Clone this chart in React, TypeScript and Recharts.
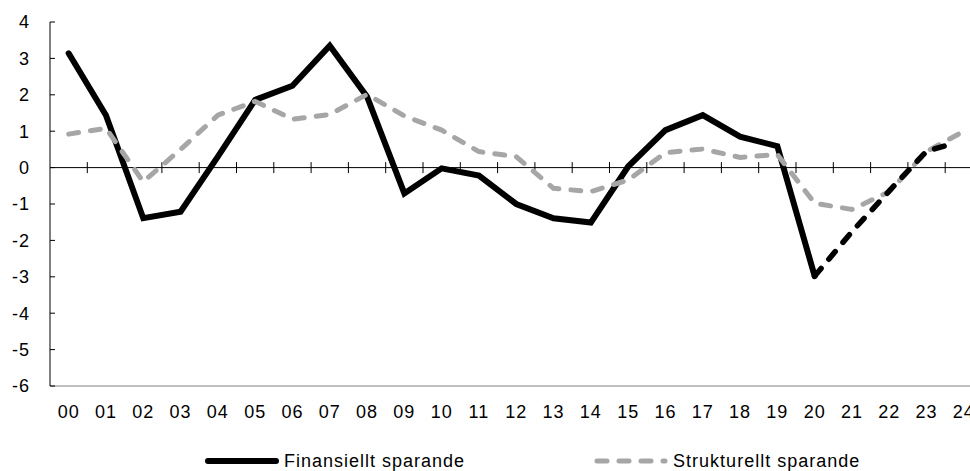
import { Line, LineChart, ReferenceLine, XAxis, YAxis } from 'recharts'

const years = ['00', '01', '02', '03', '04', '05', '06', '07', '08', '09', '10', '11', '12',
  '13', '14', '15', '16', '17', '18', '19', '20', '21', '22', '23', '24']

// utfall t.o.m. 2020
const finansiellt = [3.14, 1.44, -1.39, -1.21, 0.3, 1.86, 2.25, 3.35, 1.95, -0.71, -0.02, -0.22,
  -1.0, -1.39, -1.51, 0.03, 1.03, 1.44, 0.85, 0.59, -2.98]
const strukturellt = [0.92, 1.08, -0.39, 0.5, 1.44, 1.82, 1.33, 1.46, 2.01, 1.42, 1.03, 0.44,
  0.3, -0.57, -0.66, -0.34, 0.41, 0.51, 0.28, 0.36, -0.98, -1.15, -0.66, 0.44, 1.0]
// prognos, streckad
const prognosX = [20, 21, 22, 23, 23.5]
const prognos = [-2.98, -1.76, -0.64, 0.45, 0.6]

const yTicks = [-6, -5, -4, -3, -2, -1, 0, 1, 2, 3, 4]

const GRAY = '#a6a6a6'
const DASH = '10 12'

const rows = years.map((_, i) => ({ x: i, fin: finansiellt[i] ?? null, str: strukturellt[i] }))
const prognosRows = prognosX.map((x, i) => ({ x, fin: prognos[i] }))

const legendItems = [
  { name: 'Finansiellt sparande', color: '#000', dash: undefined as string | undefined, width: 6 },
  { name: 'Strukturellt sparande', color: GRAY, dash: DASH, width: 5 },
]

function ZeroLine(props: { x1?: number; x2?: number; y1?: number }) {
  const { x1 = 0, x2 = 0, y1 = 0 } = props
  const band = (x2 - x1) / years.length
  return <g>
    <line x1={x1} x2={x2} y1={y1} y2={y1} stroke="#000" strokeWidth={1} />
    {years.slice(1).map((y, i) => {
      const x = x1 + band * (i + 1)
      return <line key={y} x1={x} x2={x} y1={y1 - 5.5} y2={y1 + 5.5} stroke="#000" strokeWidth={1} />
    })}
  </g>
}

function ChartLegend() {
  return <div style={{ position: 'absolute', left: 205, top: 451, display: 'flex', gap: 129, alignItems: 'center', lineHeight: '20px' }}>
    {legendItems.map((item) => <div key={item.name} style={{ display: 'flex', alignItems: 'center' }}>
      <svg width={74} height={10} style={{ marginRight: 5 }}>
        <line x1={3} x2={71} y1={5} y2={5} stroke={item.color} strokeWidth={item.width} strokeLinecap="round" strokeDasharray={item.dash} />
      </svg>
      <span>{item.name}</span>
    </div>)}
  </div>
}

export default function App() {
  return <div style={{ position: 'fixed', left: 0, top: 0, width: 970, height: 471, overflow: 'hidden', background: '#fff', fontFamily: "'Liberation Sans', Arial, sans-serif", fontSize: 18, letterSpacing: 1, color: '#000' }}>
    <LineChart width={1000} height={471} data={rows} margin={{ top: 22, right: 17.5, bottom: 0, left: 0 }}>
      <XAxis dataKey="x" type="number" domain={[-0.5, 24.5]} ticks={years.map((_, i) => i)} tickFormatter={(v) => years[v]} interval={0}
        height={85} tickSize={0} tickMargin={19} tickLine={false} axisLine={{ stroke: '#808080' }} tick={{ fontSize: 18, fill: '#000' }} />
      <XAxis xAxisId="top" orientation="top" type="number" domain={[-0.5, 24.5]} height={0} tick={false} tickLine={false} axisLine={{ stroke: '#808080' }} />
      <YAxis domain={[-6, 4]} ticks={yTicks} interval={0} width={50} tickSize={-5} tickMargin={25}
        axisLine={{ stroke: '#000' }} tickLine={{ stroke: '#000' }} tick={{ fontSize: 18, fill: '#000' }} />
      <ReferenceLine y={0} shape={(p: any) => <ZeroLine {...p} />} />
      <Line dataKey="fin" name="Finansiellt sparande" stroke="#000" strokeWidth={6} strokeLinecap="round" dot={false} activeDot={false} isAnimationActive={false} />
      <Line dataKey="str" name="Strukturellt sparande" stroke={GRAY} strokeWidth={5} strokeLinecap="round" strokeDasharray={DASH} dot={false} activeDot={false} isAnimationActive={false} />
      <Line data={prognosRows} dataKey="fin" name="Prognos" stroke="#000" strokeWidth={5.5} strokeLinecap="round" strokeDasharray={DASH} dot={false} activeDot={false} legendType="none" isAnimationActive={false} />
    </LineChart>
    <ChartLegend />
  </div>
}
